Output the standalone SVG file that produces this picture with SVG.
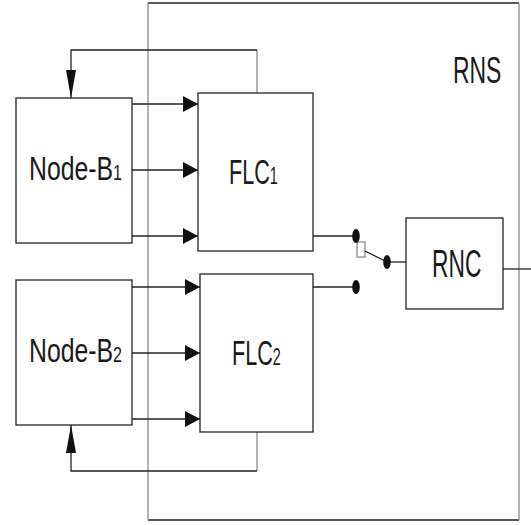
<svg xmlns="http://www.w3.org/2000/svg" width="531" height="525" viewBox="0 0 531 525">
<style>
.box{fill:#fff;stroke:#222;stroke-width:1.3}
.ln{fill:none;stroke:#222;stroke-width:1.3}
.gr{fill:none;stroke:#8a8a8a;stroke-width:1.3}
.t{font-family:"Liberation Sans",Arial,sans-serif;fill:#1a1a1a}
.dot{fill:#111}
</style>
<defs>
<marker id="arr" markerUnits="userSpaceOnUse" markerWidth="15" markerHeight="16" refX="15" refY="8" orient="auto"><path d="M0,0 L15,8 L0,16 z" fill="#111"/></marker>
<marker id="arrT" markerUnits="userSpaceOnUse" markerWidth="28" markerHeight="10" refX="28" refY="5" orient="auto"><path d="M0,0 L28,5 L0,10 z" fill="#111"/></marker>
</defs>
<g id="rns">
<line x1="148" y1="3" x2="519" y2="3" class="ln"/>
<line x1="148" y1="520" x2="519" y2="520" class="ln"/>
<line x1="148" y1="3" x2="148" y2="520" class="gr"/>
<line x1="519" y1="3" x2="519" y2="520" class="gr"/>
<text class="t" font-size="37" transform="translate(453,83) scale(0.62,1)">RNS</text>
</g>
<g id="connectors">
<line x1="132" y1="104" x2="198" y2="104" class="ln" marker-end="url(#arr)"/>
<line x1="132" y1="170" x2="198" y2="170" class="ln" marker-end="url(#arr)"/>
<line x1="132" y1="236" x2="198" y2="236" class="ln" marker-end="url(#arr)"/>
<line x1="132" y1="287" x2="200" y2="287" class="ln" marker-end="url(#arr)"/>
<line x1="132" y1="353" x2="200" y2="353" class="ln" marker-end="url(#arr)"/>
<line x1="132" y1="419" x2="200" y2="419" class="ln" marker-end="url(#arr)"/>
<line x1="257" y1="93" x2="257" y2="50" class="gr"/>
<polyline points="257,50 71,50 71,98" class="ln" marker-end="url(#arrT)"/>
<line x1="257" y1="432" x2="257" y2="471" class="gr"/>
<polyline points="257,471 71,471 71,425" class="ln" marker-end="url(#arrT)"/>
<line x1="313" y1="236" x2="356" y2="236" class="ln"/>
<line x1="313" y1="287" x2="356" y2="287" class="ln"/>
<rect x="357" y="242" width="8" height="15" class="gr" fill="#fff"/>
<line x1="365" y1="251" x2="387" y2="262" class="ln"/>
<line x1="387" y1="262" x2="406" y2="262" class="ln"/>
<line x1="503" y1="269" x2="531" y2="269" class="ln"/>
<ellipse cx="356" cy="236" rx="3.8" ry="7" class="dot"/>
<ellipse cx="356" cy="287" rx="3.8" ry="7" class="dot"/>
<ellipse cx="387" cy="262" rx="3.8" ry="7" class="dot"/>
</g>
<g id="nodeb1">
<rect x="16" y="98" width="116" height="145" class="box"/>
<text class="t" font-size="34" transform="translate(29,180) scale(0.73,1)">Node-B<tspan font-size="22">1</tspan></text>
</g>
<g id="nodeb2">
<rect x="16" y="280" width="116" height="145" class="box"/>
<text class="t" font-size="34" transform="translate(29,362) scale(0.73,1)">Node-B<tspan font-size="22">2</tspan></text>
</g>
<g id="flc1">
<rect x="198" y="93" width="115" height="158" class="box"/>
<text class="t" font-size="36" transform="translate(229,184) scale(0.6,1)">FLC<tspan font-size="24">1</tspan></text>
</g>
<g id="flc2">
<rect x="200" y="274" width="113" height="158" class="box"/>
<text class="t" font-size="36" transform="translate(232,365) scale(0.6,1)">FLC<tspan font-size="24">2</tspan></text>
</g>
<g id="rnc">
<rect x="406" y="218" width="97" height="91" class="box"/>
<text class="t" font-size="38" transform="translate(432,277) scale(0.6,1)">RNC</text>
</g>
</svg>
